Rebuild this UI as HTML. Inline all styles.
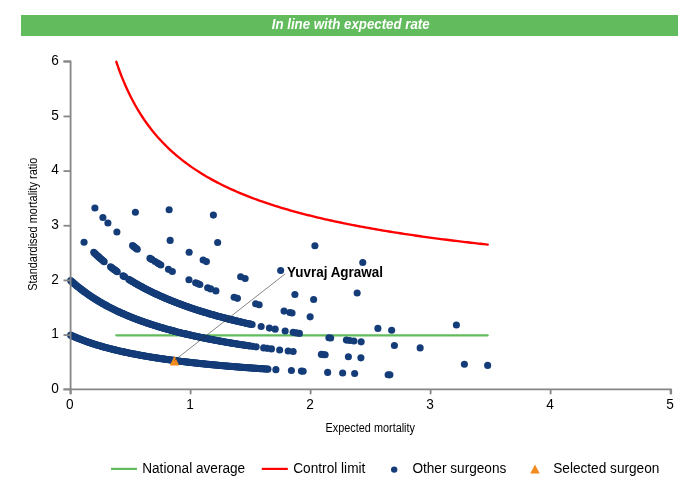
<!DOCTYPE html><html><head><meta charset="utf-8"><title>Funnel plot</title>
<style>html,body{margin:0;padding:0;background:#fff}svg{display:block}text{font-family:"Liberation Sans", Arial, sans-serif;fill:#000}</style></head><body>
<svg width="700" height="500" viewBox="0 0 700 500">
<rect x="0" y="0" width="700" height="500" fill="#fff"/>
<rect x="21" y="15" width="657" height="21" fill="#62bb5c"/>
<text x="350.7" y="29.4" font-size="14" text-anchor="middle" font-weight="bold" font-style="italic" textLength="158" lengthAdjust="spacingAndGlyphs" style="fill:#fff">In line with expected rate</text>
<text x="58.9" y="392.9" font-size="14.8" text-anchor="end" textLength="7.6" lengthAdjust="spacingAndGlyphs">0</text>
<text x="58.9" y="338.2" font-size="14.8" text-anchor="end" textLength="7.6" lengthAdjust="spacingAndGlyphs">1</text>
<text x="58.9" y="283.6" font-size="14.8" text-anchor="end" textLength="7.6" lengthAdjust="spacingAndGlyphs">2</text>
<text x="58.9" y="228.9" font-size="14.8" text-anchor="end" textLength="7.6" lengthAdjust="spacingAndGlyphs">3</text>
<text x="58.9" y="174.3" font-size="14.8" text-anchor="end" textLength="7.6" lengthAdjust="spacingAndGlyphs">4</text>
<text x="58.9" y="119.6" font-size="14.8" text-anchor="end" textLength="7.6" lengthAdjust="spacingAndGlyphs">5</text>
<text x="58.9" y="65.0" font-size="14.8" text-anchor="end" textLength="7.6" lengthAdjust="spacingAndGlyphs">6</text>
<text x="69.7" y="409.3" font-size="14.8" text-anchor="middle" textLength="7.6" lengthAdjust="spacingAndGlyphs">0</text>
<text x="190.1" y="409.3" font-size="14.8" text-anchor="middle" textLength="7.6" lengthAdjust="spacingAndGlyphs">1</text>
<text x="310.1" y="409.3" font-size="14.8" text-anchor="middle" textLength="7.6" lengthAdjust="spacingAndGlyphs">2</text>
<text x="430.1" y="409.3" font-size="14.8" text-anchor="middle" textLength="7.6" lengthAdjust="spacingAndGlyphs">3</text>
<text x="550.1" y="409.3" font-size="14.8" text-anchor="middle" textLength="7.6" lengthAdjust="spacingAndGlyphs">4</text>
<text x="670.1" y="409.3" font-size="14.8" text-anchor="middle" textLength="7.6" lengthAdjust="spacingAndGlyphs">5</text>
<text x="370.3" y="431.9" font-size="12" text-anchor="middle" textLength="89.4" lengthAdjust="spacingAndGlyphs">Expected mortality</text>
<text x="0" y="0" font-size="12" text-anchor="middle" textLength="133" lengthAdjust="spacingAndGlyphs" transform="translate(36.6,224.2) rotate(-90)">Standardised mortality ratio</text>
<path d="M116.2 335.3 H487.7" stroke="#62bb5c" stroke-width="2.2" fill="none" stroke-linecap="round"/>
<path d="M116.28 61.75 L118.15 67.16 L120.01 72.26 L121.88 77.08 L123.75 81.64 L125.61 85.97 L127.48 90.09 L129.35 94.00 L131.21 97.74 L133.08 101.31 L134.95 104.72 L136.81 107.99 L138.68 111.12 L140.55 114.12 L142.41 117.01 L144.28 119.79 L146.15 122.46 L148.01 125.04 L149.88 127.52 L151.75 129.92 L153.61 132.24 L155.48 134.48 L157.35 136.65 L159.21 138.75 L161.08 140.78 L162.95 142.75 L164.81 144.67 L166.68 146.53 L168.55 148.33 L170.41 150.08 L172.28 151.79 L174.15 153.45 L176.01 155.06 L177.88 156.63 L179.75 158.16 L181.61 159.66 L183.48 161.11 L185.35 162.53 L187.21 163.92 L189.08 165.27 L190.95 166.59 L192.81 167.89 L194.68 169.15 L196.55 170.38 L198.41 171.59 L200.28 172.77 L202.15 173.92 L204.01 175.05 L205.88 176.16 L207.75 177.25 L209.61 178.31 L211.48 179.35 L213.34 180.37 L215.21 181.37 L217.08 182.36 L218.94 183.32 L220.81 184.27 L222.68 185.19 L224.54 186.11 L226.41 187.00 L228.28 187.88 L230.14 188.74 L232.01 189.59 L233.88 190.43 L235.74 191.25 L237.61 192.05 L239.48 192.84 L241.34 193.62 L243.21 194.39 L245.08 195.14 L246.94 195.89 L248.81 196.62 L250.68 197.34 L252.54 198.05 L254.41 198.74 L256.28 199.43 L258.14 200.11 L260.01 200.77 L261.88 201.43 L263.74 202.08 L265.61 202.72 L267.48 203.35 L269.34 203.97 L271.21 204.58 L273.08 205.18 L274.94 205.77 L276.81 206.36 L278.68 206.94 L280.54 207.51 L282.41 208.07 L284.28 208.63 L286.14 209.18 L288.01 209.72 L289.88 210.26 L291.74 210.78 L293.61 211.30 L295.48 211.82 L297.34 212.33 L299.21 212.83 L301.08 213.33 L302.94 213.82 L304.81 214.30 L306.68 214.78 L308.54 215.25 L310.41 215.72 L312.28 216.18 L314.14 216.64 L316.01 217.09 L317.88 217.54 L319.74 217.98 L321.61 218.41 L323.48 218.84 L325.34 219.27 L327.21 219.69 L329.08 220.11 L330.94 220.52 L332.81 220.93 L334.68 221.34 L336.54 221.74 L338.41 222.13 L340.28 222.52 L342.14 222.91 L344.01 223.30 L345.88 223.68 L347.74 224.05 L349.61 224.42 L351.48 224.79 L353.34 225.16 L355.21 225.52 L357.08 225.88 L358.94 226.23 L360.81 226.58 L362.68 226.93 L364.54 227.27 L366.41 227.61 L368.28 227.95 L370.14 228.28 L372.01 228.62 L373.88 228.94 L375.74 229.27 L377.61 229.59 L379.48 229.91 L381.34 230.23 L383.21 230.54 L385.08 230.85 L386.94 231.16 L388.81 231.47 L390.68 231.77 L392.54 232.07 L394.41 232.37 L396.27 232.66 L398.14 232.95 L400.01 233.24 L401.87 233.53 L403.74 233.81 L405.61 234.10 L407.47 234.38 L409.34 234.66 L411.21 234.93 L413.07 235.20 L414.94 235.48 L416.81 235.75 L418.67 236.01 L420.54 236.28 L422.41 236.54 L424.27 236.80 L426.14 237.06 L428.01 237.31 L429.87 237.57 L431.74 237.82 L433.61 238.07 L435.47 238.32 L437.34 238.57 L439.21 238.81 L441.07 239.05 L442.94 239.30 L444.81 239.54 L446.67 239.77 L448.54 240.01 L450.41 240.24 L452.27 240.47 L454.14 240.71 L456.01 240.93 L457.87 241.16 L459.74 241.39 L461.61 241.61 L463.47 241.83 L465.34 242.05 L467.21 242.27 L469.07 242.49 L470.94 242.71 L472.81 242.92 L474.67 243.14 L476.54 243.35 L478.41 243.56 L480.27 243.77 L482.14 243.97 L484.01 244.18 L485.87 244.38 L487.74 244.59" stroke="#ff0000" stroke-width="2.35" fill="none" stroke-linecap="round" stroke-linejoin="round"/>
<g fill="#143c78">
<circle cx="70.65" cy="335.15" r="3.55"/>
<circle cx="71.65" cy="335.60" r="3.55"/>
<circle cx="72.65" cy="336.05" r="3.55"/>
<circle cx="73.65" cy="336.48" r="3.55"/>
<circle cx="74.66" cy="336.92" r="3.55"/>
<circle cx="75.66" cy="337.34" r="3.55"/>
<circle cx="76.66" cy="337.76" r="3.55"/>
<circle cx="77.66" cy="338.17" r="3.55"/>
<circle cx="78.66" cy="338.57" r="3.55"/>
<circle cx="79.66" cy="338.97" r="3.55"/>
<circle cx="80.66" cy="339.36" r="3.55"/>
<circle cx="81.66" cy="339.74" r="3.55"/>
<circle cx="82.67" cy="340.12" r="3.55"/>
<circle cx="83.67" cy="340.50" r="3.55"/>
<circle cx="84.67" cy="340.87" r="3.55"/>
<circle cx="85.67" cy="341.23" r="3.55"/>
<circle cx="86.67" cy="341.59" r="3.55"/>
<circle cx="87.67" cy="341.94" r="3.55"/>
<circle cx="88.67" cy="342.29" r="3.55"/>
<circle cx="89.67" cy="342.63" r="3.55"/>
<circle cx="90.68" cy="342.97" r="3.55"/>
<circle cx="91.68" cy="343.30" r="3.55"/>
<circle cx="92.68" cy="343.63" r="3.55"/>
<circle cx="93.68" cy="343.95" r="3.55"/>
<circle cx="94.68" cy="344.27" r="3.55"/>
<circle cx="95.68" cy="344.58" r="3.55"/>
<circle cx="96.68" cy="344.89" r="3.55"/>
<circle cx="97.68" cy="345.20" r="3.55"/>
<circle cx="98.69" cy="345.50" r="3.55"/>
<circle cx="99.69" cy="345.80" r="3.55"/>
<circle cx="100.69" cy="346.09" r="3.55"/>
<circle cx="101.69" cy="346.38" r="3.55"/>
<circle cx="102.69" cy="346.67" r="3.55"/>
<circle cx="103.69" cy="346.95" r="3.55"/>
<circle cx="104.69" cy="347.23" r="3.55"/>
<circle cx="105.69" cy="347.50" r="3.55"/>
<circle cx="106.70" cy="347.77" r="3.55"/>
<circle cx="107.70" cy="348.04" r="3.55"/>
<circle cx="108.70" cy="348.31" r="3.55"/>
<circle cx="109.70" cy="348.57" r="3.55"/>
<circle cx="110.70" cy="348.83" r="3.55"/>
<circle cx="111.70" cy="349.08" r="3.55"/>
<circle cx="112.70" cy="349.33" r="3.55"/>
<circle cx="113.70" cy="349.58" r="3.55"/>
<circle cx="114.71" cy="349.83" r="3.55"/>
<circle cx="115.71" cy="350.07" r="3.55"/>
<circle cx="116.71" cy="350.31" r="3.55"/>
<circle cx="117.71" cy="350.54" r="3.55"/>
<circle cx="118.71" cy="350.78" r="3.55"/>
<circle cx="119.71" cy="351.01" r="3.55"/>
<circle cx="120.71" cy="351.24" r="3.55"/>
<circle cx="121.71" cy="351.46" r="3.55"/>
<circle cx="122.72" cy="351.69" r="3.55"/>
<circle cx="123.72" cy="351.91" r="3.55"/>
<circle cx="124.72" cy="352.13" r="3.55"/>
<circle cx="125.72" cy="352.34" r="3.55"/>
<circle cx="126.72" cy="352.55" r="3.55"/>
<circle cx="127.72" cy="352.76" r="3.55"/>
<circle cx="128.72" cy="352.97" r="3.55"/>
<circle cx="129.72" cy="353.18" r="3.55"/>
<circle cx="130.73" cy="353.38" r="3.55"/>
<circle cx="131.73" cy="353.58" r="3.55"/>
<circle cx="132.73" cy="353.78" r="3.55"/>
<circle cx="133.73" cy="353.98" r="3.55"/>
<circle cx="134.73" cy="354.17" r="3.55"/>
<circle cx="135.73" cy="354.37" r="3.55"/>
<circle cx="136.73" cy="354.56" r="3.55"/>
<circle cx="137.74" cy="354.75" r="3.55"/>
<circle cx="138.74" cy="354.93" r="3.55"/>
<circle cx="139.74" cy="355.12" r="3.55"/>
<circle cx="140.74" cy="355.30" r="3.55"/>
<circle cx="141.74" cy="355.48" r="3.55"/>
<circle cx="142.74" cy="355.66" r="3.55"/>
<circle cx="143.74" cy="355.84" r="3.55"/>
<circle cx="144.74" cy="356.01" r="3.55"/>
<circle cx="145.75" cy="356.19" r="3.55"/>
<circle cx="146.75" cy="356.36" r="3.55"/>
<circle cx="147.75" cy="356.53" r="3.55"/>
<circle cx="148.75" cy="356.70" r="3.55"/>
<circle cx="149.75" cy="356.86" r="3.55"/>
<circle cx="150.75" cy="357.03" r="3.55"/>
<circle cx="151.75" cy="357.19" r="3.55"/>
<circle cx="152.75" cy="357.35" r="3.55"/>
<circle cx="153.76" cy="357.51" r="3.55"/>
<circle cx="154.76" cy="357.67" r="3.55"/>
<circle cx="155.76" cy="357.83" r="3.55"/>
<circle cx="156.76" cy="357.98" r="3.55"/>
<circle cx="157.76" cy="358.14" r="3.55"/>
<circle cx="158.76" cy="358.29" r="3.55"/>
<circle cx="159.76" cy="358.44" r="3.55"/>
<circle cx="160.76" cy="358.59" r="3.55"/>
<circle cx="161.77" cy="358.74" r="3.55"/>
<circle cx="162.77" cy="358.88" r="3.55"/>
<circle cx="163.77" cy="359.03" r="3.55"/>
<circle cx="164.77" cy="359.17" r="3.55"/>
<circle cx="165.77" cy="359.31" r="3.55"/>
<circle cx="166.77" cy="359.46" r="3.55"/>
<circle cx="167.77" cy="359.60" r="3.55"/>
<circle cx="168.77" cy="359.73" r="3.55"/>
<circle cx="169.78" cy="359.87" r="3.55"/>
<circle cx="170.78" cy="360.01" r="3.55"/>
<circle cx="171.78" cy="360.14" r="3.55"/>
<circle cx="172.78" cy="360.28" r="3.55"/>
<circle cx="173.78" cy="360.41" r="3.55"/>
<circle cx="174.78" cy="360.54" r="3.55"/>
<circle cx="175.78" cy="360.67" r="3.55"/>
<circle cx="176.78" cy="360.80" r="3.55"/>
<circle cx="177.79" cy="360.93" r="3.55"/>
<circle cx="178.79" cy="361.05" r="3.55"/>
<circle cx="179.79" cy="361.18" r="3.55"/>
<circle cx="180.79" cy="361.30" r="3.55"/>
<circle cx="181.79" cy="361.43" r="3.55"/>
<circle cx="182.79" cy="361.55" r="3.55"/>
<circle cx="183.79" cy="361.67" r="3.55"/>
<circle cx="184.79" cy="361.79" r="3.55"/>
<circle cx="185.80" cy="361.91" r="3.55"/>
<circle cx="186.80" cy="362.03" r="3.55"/>
<circle cx="187.80" cy="362.15" r="3.55"/>
<circle cx="188.80" cy="362.26" r="3.55"/>
<circle cx="189.80" cy="362.38" r="3.55"/>
<circle cx="190.80" cy="362.49" r="3.55"/>
<circle cx="191.80" cy="362.61" r="3.55"/>
<circle cx="192.80" cy="362.72" r="3.55"/>
<circle cx="193.81" cy="362.83" r="3.55"/>
<circle cx="194.81" cy="362.94" r="3.55"/>
<circle cx="195.81" cy="363.05" r="3.55"/>
<circle cx="196.81" cy="363.16" r="3.55"/>
<circle cx="197.81" cy="363.27" r="3.55"/>
<circle cx="198.81" cy="363.37" r="3.55"/>
<circle cx="199.81" cy="363.48" r="3.55"/>
<circle cx="200.81" cy="363.59" r="3.55"/>
<circle cx="201.82" cy="363.69" r="3.55"/>
<circle cx="202.82" cy="363.79" r="3.55"/>
<circle cx="203.82" cy="363.90" r="3.55"/>
<circle cx="204.82" cy="364.00" r="3.55"/>
<circle cx="205.82" cy="364.10" r="3.55"/>
<circle cx="206.82" cy="364.20" r="3.55"/>
<circle cx="207.82" cy="364.30" r="3.55"/>
<circle cx="208.83" cy="364.40" r="3.55"/>
<circle cx="209.83" cy="364.50" r="3.55"/>
<circle cx="210.83" cy="364.59" r="3.55"/>
<circle cx="211.83" cy="364.69" r="3.55"/>
<circle cx="212.83" cy="364.79" r="3.55"/>
<circle cx="213.83" cy="364.88" r="3.55"/>
<circle cx="214.83" cy="364.98" r="3.55"/>
<circle cx="215.83" cy="365.07" r="3.55"/>
<circle cx="216.84" cy="365.16" r="3.55"/>
<circle cx="217.84" cy="365.26" r="3.55"/>
<circle cx="218.84" cy="365.35" r="3.55"/>
<circle cx="219.84" cy="365.44" r="3.55"/>
<circle cx="220.84" cy="365.53" r="3.55"/>
<circle cx="221.84" cy="365.62" r="3.55"/>
<circle cx="222.84" cy="365.71" r="3.55"/>
<circle cx="223.84" cy="365.80" r="3.55"/>
<circle cx="224.85" cy="365.88" r="3.55"/>
<circle cx="225.85" cy="365.97" r="3.55"/>
<circle cx="226.85" cy="366.06" r="3.55"/>
<circle cx="227.85" cy="366.14" r="3.55"/>
<circle cx="228.85" cy="366.23" r="3.55"/>
<circle cx="229.85" cy="366.31" r="3.55"/>
<circle cx="230.85" cy="366.40" r="3.55"/>
<circle cx="231.85" cy="366.48" r="3.55"/>
<circle cx="232.86" cy="366.56" r="3.55"/>
<circle cx="233.86" cy="366.64" r="3.55"/>
<circle cx="234.86" cy="366.73" r="3.55"/>
<circle cx="235.86" cy="366.81" r="3.55"/>
<circle cx="236.86" cy="366.89" r="3.55"/>
<circle cx="237.86" cy="366.97" r="3.55"/>
<circle cx="238.86" cy="367.05" r="3.55"/>
<circle cx="239.86" cy="367.12" r="3.55"/>
<circle cx="240.87" cy="367.20" r="3.55"/>
<circle cx="241.87" cy="367.28" r="3.55"/>
<circle cx="242.87" cy="367.36" r="3.55"/>
<circle cx="243.87" cy="367.43" r="3.55"/>
<circle cx="244.87" cy="367.51" r="3.55"/>
<circle cx="245.87" cy="367.59" r="3.55"/>
<circle cx="246.87" cy="367.66" r="3.55"/>
<circle cx="247.87" cy="367.74" r="3.55"/>
<circle cx="248.88" cy="367.81" r="3.55"/>
<circle cx="249.88" cy="367.88" r="3.55"/>
<circle cx="250.88" cy="367.96" r="3.55"/>
<circle cx="251.88" cy="368.03" r="3.55"/>
<circle cx="252.88" cy="368.10" r="3.55"/>
<circle cx="253.88" cy="368.17" r="3.55"/>
<circle cx="254.88" cy="368.24" r="3.55"/>
<circle cx="255.88" cy="368.31" r="3.55"/>
<circle cx="256.89" cy="368.39" r="3.55"/>
<circle cx="257.89" cy="368.45" r="3.55"/>
<circle cx="258.89" cy="368.52" r="3.55"/>
<circle cx="259.89" cy="368.59" r="3.55"/>
<circle cx="260.89" cy="368.66" r="3.55"/>
<circle cx="261.89" cy="368.73" r="3.55"/>
<circle cx="262.89" cy="368.80" r="3.55"/>
<circle cx="263.89" cy="368.86" r="3.55"/>
<circle cx="264.90" cy="368.93" r="3.55"/>
<circle cx="265.90" cy="369.00" r="3.55"/>
<circle cx="266.90" cy="369.06" r="3.55"/>
<circle cx="267.90" cy="369.13" r="3.55"/>
<circle cx="275.90" cy="369.64" r="3.55"/>
<circle cx="291.40" cy="370.55" r="3.55"/>
<circle cx="301.40" cy="371.10" r="3.55"/>
<circle cx="303.15" cy="371.20" r="3.55"/>
<circle cx="327.65" cy="372.40" r="3.55"/>
<circle cx="342.65" cy="373.07" r="3.55"/>
<circle cx="354.65" cy="373.57" r="3.55"/>
<circle cx="388.15" cy="374.81" r="3.55"/>
<circle cx="389.90" cy="374.87" r="3.55"/>
<circle cx="70.65" cy="280.50" r="3.55"/>
<circle cx="71.65" cy="281.40" r="3.55"/>
<circle cx="72.64" cy="282.29" r="3.55"/>
<circle cx="73.64" cy="283.16" r="3.55"/>
<circle cx="74.64" cy="284.02" r="3.55"/>
<circle cx="75.64" cy="284.86" r="3.55"/>
<circle cx="76.63" cy="285.69" r="3.55"/>
<circle cx="77.63" cy="286.51" r="3.55"/>
<circle cx="78.63" cy="287.31" r="3.55"/>
<circle cx="79.62" cy="288.11" r="3.55"/>
<circle cx="80.62" cy="288.89" r="3.55"/>
<circle cx="81.62" cy="289.65" r="3.55"/>
<circle cx="82.62" cy="290.41" r="3.55"/>
<circle cx="83.61" cy="291.16" r="3.55"/>
<circle cx="84.61" cy="291.89" r="3.55"/>
<circle cx="85.61" cy="292.61" r="3.55"/>
<circle cx="86.61" cy="293.33" r="3.55"/>
<circle cx="87.60" cy="294.03" r="3.55"/>
<circle cx="88.60" cy="294.72" r="3.55"/>
<circle cx="89.60" cy="295.40" r="3.55"/>
<circle cx="90.59" cy="296.08" r="3.55"/>
<circle cx="91.59" cy="296.74" r="3.55"/>
<circle cx="92.59" cy="297.39" r="3.55"/>
<circle cx="93.59" cy="298.04" r="3.55"/>
<circle cx="94.58" cy="298.67" r="3.55"/>
<circle cx="95.58" cy="299.30" r="3.55"/>
<circle cx="96.58" cy="299.92" r="3.55"/>
<circle cx="97.58" cy="300.53" r="3.55"/>
<circle cx="98.57" cy="301.13" r="3.55"/>
<circle cx="99.57" cy="301.73" r="3.55"/>
<circle cx="100.57" cy="302.31" r="3.55"/>
<circle cx="101.56" cy="302.89" r="3.55"/>
<circle cx="102.56" cy="303.46" r="3.55"/>
<circle cx="103.56" cy="304.02" r="3.55"/>
<circle cx="104.56" cy="304.58" r="3.55"/>
<circle cx="105.55" cy="305.13" r="3.55"/>
<circle cx="106.55" cy="305.67" r="3.55"/>
<circle cx="107.55" cy="306.20" r="3.55"/>
<circle cx="108.54" cy="306.73" r="3.55"/>
<circle cx="109.54" cy="307.25" r="3.55"/>
<circle cx="110.54" cy="307.77" r="3.55"/>
<circle cx="111.54" cy="308.28" r="3.55"/>
<circle cx="112.53" cy="308.78" r="3.55"/>
<circle cx="113.53" cy="309.27" r="3.55"/>
<circle cx="114.53" cy="309.76" r="3.55"/>
<circle cx="115.53" cy="310.25" r="3.55"/>
<circle cx="116.52" cy="310.73" r="3.55"/>
<circle cx="117.52" cy="311.20" r="3.55"/>
<circle cx="118.52" cy="311.67" r="3.55"/>
<circle cx="119.51" cy="312.13" r="3.55"/>
<circle cx="120.51" cy="312.58" r="3.55"/>
<circle cx="121.51" cy="313.03" r="3.55"/>
<circle cx="122.51" cy="313.48" r="3.55"/>
<circle cx="123.50" cy="313.92" r="3.55"/>
<circle cx="124.50" cy="314.36" r="3.55"/>
<circle cx="125.50" cy="314.79" r="3.55"/>
<circle cx="126.49" cy="315.21" r="3.55"/>
<circle cx="127.49" cy="315.63" r="3.55"/>
<circle cx="128.49" cy="316.05" r="3.55"/>
<circle cx="129.49" cy="316.46" r="3.55"/>
<circle cx="130.48" cy="316.87" r="3.55"/>
<circle cx="131.48" cy="317.27" r="3.55"/>
<circle cx="132.48" cy="317.67" r="3.55"/>
<circle cx="133.47" cy="318.06" r="3.55"/>
<circle cx="134.47" cy="318.45" r="3.55"/>
<circle cx="135.47" cy="318.83" r="3.55"/>
<circle cx="136.47" cy="319.21" r="3.55"/>
<circle cx="137.46" cy="319.59" r="3.55"/>
<circle cx="138.46" cy="319.96" r="3.55"/>
<circle cx="139.46" cy="320.33" r="3.55"/>
<circle cx="140.46" cy="320.70" r="3.55"/>
<circle cx="141.45" cy="321.06" r="3.55"/>
<circle cx="142.45" cy="321.42" r="3.55"/>
<circle cx="143.45" cy="321.77" r="3.55"/>
<circle cx="144.44" cy="322.12" r="3.55"/>
<circle cx="145.44" cy="322.47" r="3.55"/>
<circle cx="146.44" cy="322.81" r="3.55"/>
<circle cx="147.44" cy="323.15" r="3.55"/>
<circle cx="148.43" cy="323.49" r="3.55"/>
<circle cx="149.43" cy="323.82" r="3.55"/>
<circle cx="150.43" cy="324.15" r="3.55"/>
<circle cx="151.43" cy="324.47" r="3.55"/>
<circle cx="152.42" cy="324.80" r="3.55"/>
<circle cx="153.42" cy="325.12" r="3.55"/>
<circle cx="154.42" cy="325.43" r="3.55"/>
<circle cx="155.41" cy="325.75" r="3.55"/>
<circle cx="156.41" cy="326.06" r="3.55"/>
<circle cx="157.41" cy="326.36" r="3.55"/>
<circle cx="158.41" cy="326.67" r="3.55"/>
<circle cx="159.40" cy="326.97" r="3.55"/>
<circle cx="160.40" cy="327.27" r="3.55"/>
<circle cx="161.40" cy="327.56" r="3.55"/>
<circle cx="162.39" cy="327.86" r="3.55"/>
<circle cx="163.39" cy="328.15" r="3.55"/>
<circle cx="164.39" cy="328.44" r="3.55"/>
<circle cx="165.39" cy="328.72" r="3.55"/>
<circle cx="166.38" cy="329.00" r="3.55"/>
<circle cx="167.38" cy="329.28" r="3.55"/>
<circle cx="168.38" cy="329.56" r="3.55"/>
<circle cx="169.38" cy="329.83" r="3.55"/>
<circle cx="170.37" cy="330.11" r="3.55"/>
<circle cx="171.37" cy="330.38" r="3.55"/>
<circle cx="172.37" cy="330.64" r="3.55"/>
<circle cx="173.36" cy="330.91" r="3.55"/>
<circle cx="174.36" cy="331.17" r="3.55"/>
<circle cx="175.36" cy="331.43" r="3.55"/>
<circle cx="176.36" cy="331.69" r="3.55"/>
<circle cx="177.35" cy="331.94" r="3.55"/>
<circle cx="178.35" cy="332.20" r="3.55"/>
<circle cx="179.35" cy="332.45" r="3.55"/>
<circle cx="180.34" cy="332.70" r="3.55"/>
<circle cx="181.34" cy="332.94" r="3.55"/>
<circle cx="182.34" cy="333.19" r="3.55"/>
<circle cx="183.34" cy="333.43" r="3.55"/>
<circle cx="184.33" cy="333.67" r="3.55"/>
<circle cx="185.33" cy="333.91" r="3.55"/>
<circle cx="186.33" cy="334.15" r="3.55"/>
<circle cx="187.33" cy="334.38" r="3.55"/>
<circle cx="188.32" cy="334.61" r="3.55"/>
<circle cx="189.32" cy="334.85" r="3.55"/>
<circle cx="190.32" cy="335.07" r="3.55"/>
<circle cx="191.31" cy="335.30" r="3.55"/>
<circle cx="192.31" cy="335.53" r="3.55"/>
<circle cx="193.31" cy="335.75" r="3.55"/>
<circle cx="194.31" cy="335.97" r="3.55"/>
<circle cx="195.30" cy="336.19" r="3.55"/>
<circle cx="196.30" cy="336.41" r="3.55"/>
<circle cx="197.30" cy="336.62" r="3.55"/>
<circle cx="198.29" cy="336.84" r="3.55"/>
<circle cx="199.29" cy="337.05" r="3.55"/>
<circle cx="200.29" cy="337.26" r="3.55"/>
<circle cx="201.29" cy="337.47" r="3.55"/>
<circle cx="202.28" cy="337.68" r="3.55"/>
<circle cx="203.28" cy="337.88" r="3.55"/>
<circle cx="204.28" cy="338.09" r="3.55"/>
<circle cx="205.28" cy="338.29" r="3.55"/>
<circle cx="206.27" cy="338.49" r="3.55"/>
<circle cx="207.27" cy="338.69" r="3.55"/>
<circle cx="208.27" cy="338.89" r="3.55"/>
<circle cx="209.26" cy="339.08" r="3.55"/>
<circle cx="210.26" cy="339.28" r="3.55"/>
<circle cx="211.26" cy="339.47" r="3.55"/>
<circle cx="212.26" cy="339.66" r="3.55"/>
<circle cx="213.25" cy="339.85" r="3.55"/>
<circle cx="214.25" cy="340.04" r="3.55"/>
<circle cx="215.25" cy="340.23" r="3.55"/>
<circle cx="216.24" cy="340.42" r="3.55"/>
<circle cx="217.24" cy="340.60" r="3.55"/>
<circle cx="218.24" cy="340.78" r="3.55"/>
<circle cx="219.24" cy="340.97" r="3.55"/>
<circle cx="220.23" cy="341.15" r="3.55"/>
<circle cx="221.23" cy="341.33" r="3.55"/>
<circle cx="222.23" cy="341.50" r="3.55"/>
<circle cx="223.22" cy="341.68" r="3.55"/>
<circle cx="224.22" cy="341.86" r="3.55"/>
<circle cx="225.22" cy="342.03" r="3.55"/>
<circle cx="226.22" cy="342.20" r="3.55"/>
<circle cx="227.21" cy="342.38" r="3.55"/>
<circle cx="228.21" cy="342.55" r="3.55"/>
<circle cx="229.21" cy="342.71" r="3.55"/>
<circle cx="230.21" cy="342.88" r="3.55"/>
<circle cx="231.20" cy="343.05" r="3.55"/>
<circle cx="232.20" cy="343.22" r="3.55"/>
<circle cx="233.20" cy="343.38" r="3.55"/>
<circle cx="234.19" cy="343.54" r="3.55"/>
<circle cx="235.19" cy="343.70" r="3.55"/>
<circle cx="236.19" cy="343.87" r="3.55"/>
<circle cx="237.19" cy="344.03" r="3.55"/>
<circle cx="238.18" cy="344.18" r="3.55"/>
<circle cx="239.18" cy="344.34" r="3.55"/>
<circle cx="240.18" cy="344.50" r="3.55"/>
<circle cx="241.18" cy="344.65" r="3.55"/>
<circle cx="242.17" cy="344.81" r="3.55"/>
<circle cx="243.17" cy="344.96" r="3.55"/>
<circle cx="244.17" cy="345.11" r="3.55"/>
<circle cx="245.16" cy="345.27" r="3.55"/>
<circle cx="246.16" cy="345.42" r="3.55"/>
<circle cx="247.16" cy="345.57" r="3.55"/>
<circle cx="248.16" cy="345.71" r="3.55"/>
<circle cx="249.15" cy="345.86" r="3.55"/>
<circle cx="250.15" cy="346.01" r="3.55"/>
<circle cx="252.65" cy="346.37" r="3.55"/>
<circle cx="256.15" cy="346.87" r="3.55"/>
<circle cx="263.65" cy="347.90" r="3.55"/>
<circle cx="267.15" cy="348.36" r="3.55"/>
<circle cx="271.45" cy="348.91" r="3.55"/>
<circle cx="279.65" cy="349.93" r="3.55"/>
<circle cx="288.15" cy="350.94" r="3.55"/>
<circle cx="293.15" cy="351.51" r="3.55"/>
<circle cx="321.40" cy="354.42" r="3.55"/>
<circle cx="323.15" cy="354.59" r="3.55"/>
<circle cx="325.15" cy="354.78" r="3.55"/>
<circle cx="348.40" cy="356.82" r="3.55"/>
<circle cx="360.90" cy="357.83" r="3.55"/>
<circle cx="464.40" cy="364.27" r="3.55"/>
<circle cx="487.65" cy="365.38" r="3.55"/>
<circle cx="84.05" cy="242.32" r="3.55"/>
<circle cx="93.75" cy="252.32" r="3.55"/>
<circle cx="94.79" cy="253.31" r="3.55"/>
<circle cx="95.83" cy="254.29" r="3.55"/>
<circle cx="96.87" cy="255.25" r="3.55"/>
<circle cx="97.91" cy="256.20" r="3.55"/>
<circle cx="98.95" cy="257.14" r="3.55"/>
<circle cx="99.99" cy="258.06" r="3.55"/>
<circle cx="101.03" cy="258.97" r="3.55"/>
<circle cx="102.07" cy="259.87" r="3.55"/>
<circle cx="103.11" cy="260.76" r="3.55"/>
<circle cx="104.15" cy="261.63" r="3.55"/>
<circle cx="110.55" cy="266.76" r="3.55"/>
<circle cx="111.51" cy="267.49" r="3.55"/>
<circle cx="112.46" cy="268.22" r="3.55"/>
<circle cx="113.42" cy="268.93" r="3.55"/>
<circle cx="114.38" cy="269.64" r="3.55"/>
<circle cx="115.34" cy="270.34" r="3.55"/>
<circle cx="116.29" cy="271.03" r="3.55"/>
<circle cx="117.25" cy="271.71" r="3.55"/>
<circle cx="123.05" cy="275.68" r="3.55"/>
<circle cx="123.85" cy="276.21" r="3.55"/>
<circle cx="124.65" cy="276.73" r="3.55"/>
<circle cx="128.75" cy="279.33" r="3.55"/>
<circle cx="129.75" cy="279.95" r="3.55"/>
<circle cx="130.76" cy="280.56" r="3.55"/>
<circle cx="131.76" cy="281.17" r="3.55"/>
<circle cx="132.76" cy="281.77" r="3.55"/>
<circle cx="133.77" cy="282.36" r="3.55"/>
<circle cx="134.77" cy="282.95" r="3.55"/>
<circle cx="135.77" cy="283.52" r="3.55"/>
<circle cx="136.78" cy="284.10" r="3.55"/>
<circle cx="137.78" cy="284.66" r="3.55"/>
<circle cx="138.78" cy="285.22" r="3.55"/>
<circle cx="139.79" cy="285.78" r="3.55"/>
<circle cx="140.79" cy="286.33" r="3.55"/>
<circle cx="141.79" cy="286.87" r="3.55"/>
<circle cx="142.80" cy="287.41" r="3.55"/>
<circle cx="143.80" cy="287.94" r="3.55"/>
<circle cx="144.80" cy="288.47" r="3.55"/>
<circle cx="145.81" cy="288.99" r="3.55"/>
<circle cx="146.81" cy="289.50" r="3.55"/>
<circle cx="147.81" cy="290.01" r="3.55"/>
<circle cx="148.82" cy="290.52" r="3.55"/>
<circle cx="149.82" cy="291.02" r="3.55"/>
<circle cx="150.82" cy="291.51" r="3.55"/>
<circle cx="151.82" cy="292.00" r="3.55"/>
<circle cx="152.83" cy="292.49" r="3.55"/>
<circle cx="153.83" cy="292.97" r="3.55"/>
<circle cx="154.83" cy="293.45" r="3.55"/>
<circle cx="155.84" cy="293.92" r="3.55"/>
<circle cx="156.84" cy="294.38" r="3.55"/>
<circle cx="157.84" cy="294.85" r="3.55"/>
<circle cx="158.85" cy="295.30" r="3.55"/>
<circle cx="159.85" cy="295.76" r="3.55"/>
<circle cx="160.85" cy="296.21" r="3.55"/>
<circle cx="161.86" cy="296.65" r="3.55"/>
<circle cx="162.86" cy="297.09" r="3.55"/>
<circle cx="163.86" cy="297.53" r="3.55"/>
<circle cx="164.87" cy="297.96" r="3.55"/>
<circle cx="165.87" cy="298.39" r="3.55"/>
<circle cx="166.87" cy="298.81" r="3.55"/>
<circle cx="167.88" cy="299.23" r="3.55"/>
<circle cx="168.88" cy="299.65" r="3.55"/>
<circle cx="169.88" cy="300.06" r="3.55"/>
<circle cx="170.89" cy="300.47" r="3.55"/>
<circle cx="171.89" cy="300.87" r="3.55"/>
<circle cx="172.89" cy="301.28" r="3.55"/>
<circle cx="173.90" cy="301.67" r="3.55"/>
<circle cx="174.90" cy="302.07" r="3.55"/>
<circle cx="175.90" cy="302.46" r="3.55"/>
<circle cx="176.91" cy="302.85" r="3.55"/>
<circle cx="177.91" cy="303.23" r="3.55"/>
<circle cx="178.91" cy="303.61" r="3.55"/>
<circle cx="179.92" cy="303.99" r="3.55"/>
<circle cx="180.92" cy="304.36" r="3.55"/>
<circle cx="181.92" cy="304.73" r="3.55"/>
<circle cx="182.93" cy="305.10" r="3.55"/>
<circle cx="183.93" cy="305.46" r="3.55"/>
<circle cx="184.93" cy="305.82" r="3.55"/>
<circle cx="185.94" cy="306.18" r="3.55"/>
<circle cx="186.94" cy="306.54" r="3.55"/>
<circle cx="187.94" cy="306.89" r="3.55"/>
<circle cx="188.95" cy="307.24" r="3.55"/>
<circle cx="189.95" cy="307.58" r="3.55"/>
<circle cx="190.95" cy="307.93" r="3.55"/>
<circle cx="191.95" cy="308.27" r="3.55"/>
<circle cx="192.96" cy="308.61" r="3.55"/>
<circle cx="193.96" cy="308.94" r="3.55"/>
<circle cx="194.96" cy="309.27" r="3.55"/>
<circle cx="195.97" cy="309.60" r="3.55"/>
<circle cx="196.97" cy="309.93" r="3.55"/>
<circle cx="197.97" cy="310.25" r="3.55"/>
<circle cx="198.98" cy="310.57" r="3.55"/>
<circle cx="199.98" cy="310.89" r="3.55"/>
<circle cx="200.98" cy="311.21" r="3.55"/>
<circle cx="201.99" cy="311.52" r="3.55"/>
<circle cx="202.99" cy="311.83" r="3.55"/>
<circle cx="203.99" cy="312.14" r="3.55"/>
<circle cx="205.00" cy="312.45" r="3.55"/>
<circle cx="206.00" cy="312.75" r="3.55"/>
<circle cx="207.00" cy="313.05" r="3.55"/>
<circle cx="208.01" cy="313.35" r="3.55"/>
<circle cx="209.01" cy="313.65" r="3.55"/>
<circle cx="210.01" cy="313.95" r="3.55"/>
<circle cx="211.02" cy="314.24" r="3.55"/>
<circle cx="212.02" cy="314.53" r="3.55"/>
<circle cx="213.02" cy="314.82" r="3.55"/>
<circle cx="214.03" cy="315.10" r="3.55"/>
<circle cx="215.03" cy="315.38" r="3.55"/>
<circle cx="216.03" cy="315.67" r="3.55"/>
<circle cx="217.04" cy="315.94" r="3.55"/>
<circle cx="218.04" cy="316.22" r="3.55"/>
<circle cx="219.04" cy="316.50" r="3.55"/>
<circle cx="220.05" cy="316.77" r="3.55"/>
<circle cx="221.05" cy="317.04" r="3.55"/>
<circle cx="222.05" cy="317.31" r="3.55"/>
<circle cx="223.06" cy="317.58" r="3.55"/>
<circle cx="224.06" cy="317.84" r="3.55"/>
<circle cx="225.06" cy="318.10" r="3.55"/>
<circle cx="226.07" cy="318.37" r="3.55"/>
<circle cx="227.07" cy="318.63" r="3.55"/>
<circle cx="228.07" cy="318.88" r="3.55"/>
<circle cx="229.08" cy="319.14" r="3.55"/>
<circle cx="230.08" cy="319.39" r="3.55"/>
<circle cx="231.08" cy="319.64" r="3.55"/>
<circle cx="232.08" cy="319.89" r="3.55"/>
<circle cx="233.09" cy="320.14" r="3.55"/>
<circle cx="234.09" cy="320.39" r="3.55"/>
<circle cx="235.09" cy="320.63" r="3.55"/>
<circle cx="236.10" cy="320.88" r="3.55"/>
<circle cx="237.10" cy="321.12" r="3.55"/>
<circle cx="238.10" cy="321.36" r="3.55"/>
<circle cx="239.11" cy="321.60" r="3.55"/>
<circle cx="240.11" cy="321.83" r="3.55"/>
<circle cx="241.11" cy="322.07" r="3.55"/>
<circle cx="242.12" cy="322.30" r="3.55"/>
<circle cx="243.12" cy="322.53" r="3.55"/>
<circle cx="244.12" cy="322.76" r="3.55"/>
<circle cx="245.13" cy="322.99" r="3.55"/>
<circle cx="246.13" cy="323.22" r="3.55"/>
<circle cx="247.13" cy="323.44" r="3.55"/>
<circle cx="248.14" cy="323.67" r="3.55"/>
<circle cx="249.14" cy="323.89" r="3.55"/>
<circle cx="250.14" cy="324.11" r="3.55"/>
<circle cx="251.15" cy="324.33" r="3.55"/>
<circle cx="252.15" cy="324.55" r="3.55"/>
<circle cx="261.15" cy="326.44" r="3.55"/>
<circle cx="269.40" cy="328.08" r="3.55"/>
<circle cx="275.15" cy="329.17" r="3.55"/>
<circle cx="285.15" cy="330.98" r="3.55"/>
<circle cx="293.15" cy="332.36" r="3.55"/>
<circle cx="296.40" cy="332.90" r="3.55"/>
<circle cx="299.40" cy="333.39" r="3.55"/>
<circle cx="328.90" cy="337.79" r="3.55"/>
<circle cx="330.65" cy="338.03" r="3.55"/>
<circle cx="346.40" cy="340.09" r="3.55"/>
<circle cx="349.65" cy="340.49" r="3.55"/>
<circle cx="353.90" cy="341.01" r="3.55"/>
<circle cx="361.15" cy="341.87" r="3.55"/>
<circle cx="394.40" cy="345.46" r="3.55"/>
<circle cx="420.15" cy="347.90" r="3.55"/>
<circle cx="94.90" cy="207.95" r="3.55"/>
<circle cx="102.90" cy="217.50" r="3.55"/>
<circle cx="107.90" cy="222.98" r="3.55"/>
<circle cx="116.90" cy="232.01" r="3.55"/>
<circle cx="132.55" cy="245.59" r="3.55"/>
<circle cx="133.49" cy="246.33" r="3.55"/>
<circle cx="134.43" cy="247.06" r="3.55"/>
<circle cx="135.37" cy="247.79" r="3.55"/>
<circle cx="136.31" cy="248.51" r="3.55"/>
<circle cx="137.25" cy="249.22" r="3.55"/>
<circle cx="149.95" cy="258.18" r="3.55"/>
<circle cx="151.15" cy="258.97" r="3.55"/>
<circle cx="152.35" cy="259.75" r="3.55"/>
<circle cx="155.15" cy="261.53" r="3.55"/>
<circle cx="157.65" cy="263.08" r="3.55"/>
<circle cx="159.15" cy="263.99" r="3.55"/>
<circle cx="160.85" cy="265.00" r="3.55"/>
<circle cx="168.45" cy="269.36" r="3.55"/>
<circle cx="172.35" cy="271.48" r="3.55"/>
<circle cx="188.95" cy="279.72" r="3.55"/>
<circle cx="195.65" cy="282.73" r="3.55"/>
<circle cx="197.65" cy="283.60" r="3.55"/>
<circle cx="199.85" cy="284.54" r="3.55"/>
<circle cx="207.65" cy="287.73" r="3.55"/>
<circle cx="210.65" cy="288.91" r="3.55"/>
<circle cx="215.90" cy="290.90" r="3.55"/>
<circle cx="234.15" cy="297.27" r="3.55"/>
<circle cx="237.45" cy="298.34" r="3.55"/>
<circle cx="255.65" cy="303.79" r="3.55"/>
<circle cx="259.15" cy="304.77" r="3.55"/>
<circle cx="284.05" cy="311.12" r="3.55"/>
<circle cx="289.85" cy="312.47" r="3.55"/>
<circle cx="292.05" cy="312.96" r="3.55"/>
<circle cx="310.15" cy="316.83" r="3.55"/>
<circle cx="377.90" cy="328.40" r="3.55"/>
<circle cx="391.65" cy="330.32" r="3.55"/>
<circle cx="135.40" cy="212.32" r="3.55"/>
<circle cx="170.15" cy="240.42" r="3.55"/>
<circle cx="189.15" cy="252.32" r="3.55"/>
<circle cx="203.15" cy="259.94" r="3.55"/>
<circle cx="206.40" cy="261.59" r="3.55"/>
<circle cx="240.65" cy="276.73" r="3.55"/>
<circle cx="245.15" cy="278.46" r="3.55"/>
<circle cx="294.90" cy="294.55" r="3.55"/>
<circle cx="313.65" cy="299.47" r="3.55"/>
<circle cx="456.40" cy="324.97" r="3.55"/>
<circle cx="169.15" cy="209.72" r="3.55"/>
<circle cx="217.65" cy="242.43" r="3.55"/>
<circle cx="280.65" cy="270.56" r="3.55"/>
<circle cx="357.15" cy="293.00" r="3.55"/>
<circle cx="213.40" cy="215.09" r="3.55"/>
<circle cx="314.90" cy="245.77" r="3.55"/>
<circle cx="362.75" cy="262.49" r="3.55"/>
</g>
<g stroke="#868686" stroke-width="1.8" fill="none" stroke-linejoin="round">
<path d="M63.5 61.5 H70.6 V394.3 M63.5 389.4 H671.2 V394.3"/>
<path d="M63.5 389.4 H70.6"/>
<path d="M63.5 335.05 H70.6"/>
<path d="M63.5 280.4 H70.6"/>
<path d="M63.5 225.75 H70.6"/>
<path d="M63.5 171.1 H70.6"/>
<path d="M63.5 116.45 H70.6"/>
<path d="M63.5 61.5 H70.6"/>
<path d="M70.60 389.4 V394.3"/>
<path d="M190.60 389.4 V394.3"/>
<path d="M310.60 389.4 V394.3"/>
<path d="M430.60 389.4 V394.3"/>
<path d="M550.60 389.4 V394.3"/>
<path d="M670.60 389.4 V394.3"/>
</g>
<path d="M174.5 355.8 L179.2 365.6 L169.8 365.6 Z" fill="#f28a1e"/>
<path d="M174.6 360.3 L285.3 273.8" stroke="#333" stroke-width="0.6" fill="none"/>
<text x="287.0" y="277.3" font-size="14" font-weight="bold" textLength="96" lengthAdjust="spacingAndGlyphs">Yuvraj Agrawal</text>
<path d="M111 468.9 H137" stroke="#62bb5c" stroke-width="2.2"/>
<text x="142.2" y="473.3" font-size="14" textLength="103" lengthAdjust="spacingAndGlyphs">National average</text>
<path d="M261.8 468.9 H287.8" stroke="#ff0000" stroke-width="2.2"/>
<text x="293.2" y="473.3" font-size="14" textLength="72.2" lengthAdjust="spacingAndGlyphs">Control limit</text>
<circle cx="394.2" cy="469.6" r="3.2" fill="#143c78"/>
<text x="412.4" y="473.3" font-size="14" textLength="93.9" lengthAdjust="spacingAndGlyphs">Other surgeons</text>
<path d="M535 464.5 L539.7 473.5 L530.3 473.5 Z" fill="#f28a1e"/>
<text x="553.2" y="473.3" font-size="14" textLength="106.2" lengthAdjust="spacingAndGlyphs">Selected surgeon</text>
</svg></body></html>
